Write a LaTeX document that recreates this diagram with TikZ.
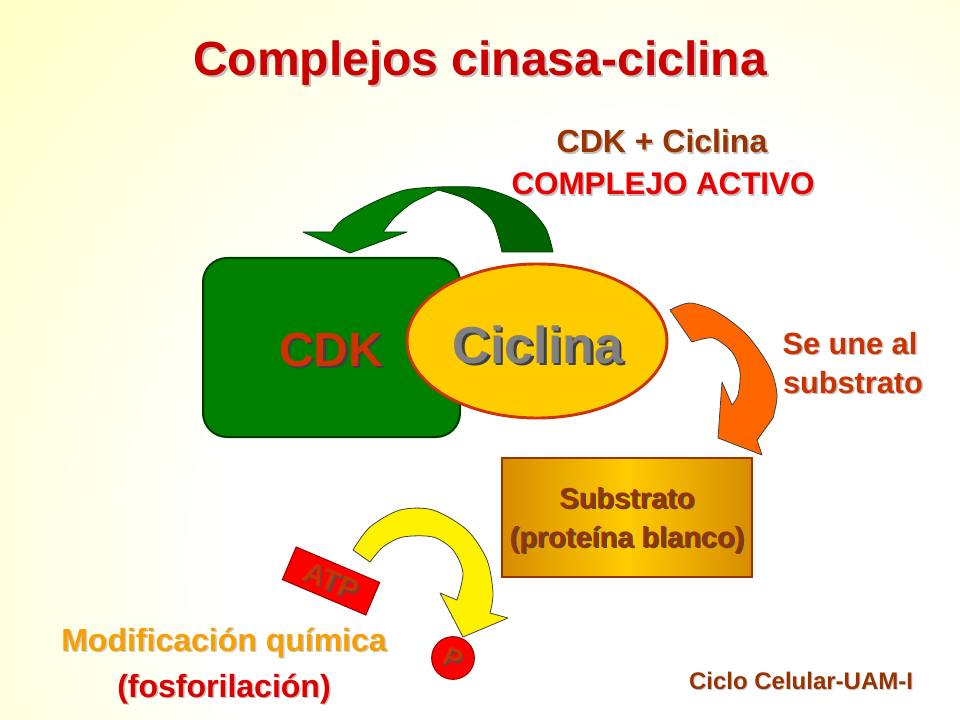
\documentclass[tikz,border=0pt]{standalone}
\usepackage{fontspec}
\setmainfont{Liberation Sans}
\usetikzlibrary{fit,calc,shapes.geometric}
\definecolor{bgyellow}{RGB}{255,255,135}
\definecolor{titlered}{RGB}{204,0,0}
\definecolor{brownA}{RGB}{153,51,0}
\definecolor{actred}{RGB}{235,0,0}
\definecolor{cdkred}{RGB}{204,51,0}
\definecolor{cicgray}{RGB}{128,128,128}
\definecolor{seune}{RGB}{204,51,0}
\definecolor{modorange}{RGB}{245,160,0}
\definecolor{fosred}{RGB}{220,0,0}
\definecolor{glight}{RGB}{0,128,0}
\definecolor{gdark}{RGB}{0,100,0}
\definecolor{gline}{RGB}{0,60,0}
\definecolor{orangeA}{RGB}{255,102,0}
\definecolor{ellfill}{RGB}{255,204,0}
\definecolor{ellline}{RGB}{204,51,0}
\definecolor{subdark}{RGB}{215,140,0}
\definecolor{sublight}{RGB}{255,204,0}
\definecolor{darkred}{RGB}{150,0,0}
\pgfdeclareradialshading{bgshade}{\pgfpoint{0bp}{0bp}}{color(0bp)=(white); color(7bp)=(white); color(22bp)=(bgyellow); color(50bp)=(bgyellow)}
\newcommand\shtxt[8]{%
  \node[anchor=base, font=\bfseries\fontsize{#4}{#4}\selectfont, text=#6] at (#2+#8,#3+#8) {#7};
  \node[anchor=base, font=\bfseries\fontsize{#4}{#4}\selectfont, text=#5] (#1) at (#2,#3) {#7};}
\tikzset{
  arrowline/.style={draw=black!75, line width=0.6pt, line join=round},
}
\begin{document}
\begin{tikzpicture}[x=0.75pt,y=-0.75pt]
\useasboundingbox (0,0) rectangle (960,720);
\begin{scope}
  \clip (0,0) rectangle (960,720);
  \shade[shading=bgshade] (640,560) circle (1500);
\end{scope}

% title and labels
\shtxt{title}{480}{76}{36}{titlered}{black!25}{Complejos cinasa-ciclina}{2}
\shtxt{cdkcic}{662}{153}{24}{brownA}{black!25}{CDK + Ciclina}{1.5}
\shtxt{activo}{663}{195}{23.5}{actred}{black!25}{COMPLEJO ACTIVO}{1.5}

% green curved arrow
\filldraw[fill=gdark, draw=gline, line width=0.6pt, line join=round]
  plot[smooth] coordinates {(553,252) (545,227) (522,203) (482,188) (438,187)}
  -- plot[smooth] coordinates {(438,190) (468,200) (492,220) (502,252)} -- cycle;
\filldraw[fill=glight, draw=gline, line width=0.6pt, line join=round]
  plot[smooth] coordinates {(438,187) (405,190) (372,203) (342,220) (332,232)}
  -- (303,232) -- (350,253) -- (407,232) -- (383,232)
  -- plot[smooth] coordinates {(383,232) (395,217) (412,203) (428,195) (438,190)} -- cycle;

% CDK box and Ciclina ellipse
\node[fit={(203,258) (460,437)}, inner sep=0pt, rounded corners=18pt, fill=glight, draw=gline, line width=1.5pt] (cdkbox) {};
\node[ellipse, minimum width=195pt, minimum height=115.5pt, inner sep=0pt, fill=ellfill, draw=ellline, line width=2.2pt] (cicell) at (537,341) {};
\shtxt{cdk}{331}{366}{36}{cdkred}{black!75}{CDK}{2.5}
\shtxt{ciclina}{538}{363}{39}{cicgray}{black!75}{Ciclina}{2.5}

% orange arrow
\filldraw[fill=orangeA, arrowline]
  plot[smooth] coordinates {(670,310) (690,303) (717,312) (747,335) (770,368) (777,395) (773,418)}
  -- (757,440) -- (762,455) -- (718,438) -- (722,382) -- (732,405)
  -- plot[smooth] coordinates {(732,405) (738,395) (740,372) (732,352) (713,338) (692,342)} -- cycle;
\shtxt{seune}{850}{354}{23}{seune}{black!25}{Se une al}{1.5}
\shtxt{substr}{853}{393}{23}{seune}{black!25}{substrato}{1.5}

% substrate box
\node[fit={(502,458) (752,577)}, inner sep=0pt, left color=subdark, right color=subdark, middle color=sublight, draw=brownA, line width=1.5pt] (subbox) {};
\shtxt{sub1}{627}{508}{21.7}{brownA}{black!70}{Substrato}{1.5}
\shtxt{sub2}{627}{547}{21.7}{brownA}{black!70}{(proteína blanco)}{1.5}

% yellow arrow
\filldraw[fill=yellow, arrowline]
  plot[smooth] coordinates {(353,550) (370,527) (400,510) (433,510) (467,530) (487,560) (493,593) (490,613)}
  -- (508,618) -- (463,637) -- (440,593) -- (457,600)
  -- plot[smooth] coordinates {(457,600) (463,573) (453,550) (433,537) (403,537) (383,547) (370,562)} -- cycle;

% ATP
\node[rotate=-23, minimum width=68pt, minimum height=26.5pt, inner sep=0pt, fill=red, draw=darkred, line width=0.8pt] (atpbox) at (331,581) {};
\node[rotate=-23, font=\bfseries\fontsize{22}{22}\selectfont, text=black!70] at (332.5,582.5) {ATP};
\node[rotate=-23, font=\bfseries\fontsize{22}{22}\selectfont, text=cdkred] (atp) at (331,581) {ATP};

% P
\node[circle, minimum size=32pt, inner sep=0pt, fill=red, draw=darkred, line width=0.8pt] (pcirc) at (453,658) {};
\node[rotate=-25, font=\bfseries\fontsize{20}{20}\selectfont, text=black!70] at (454.5,659.5) {P};
\node[rotate=-25, font=\bfseries\fontsize{20}{20}\selectfont, text=cdkred] (p) at (453,658) {P};

% bottom texts
\shtxt{mod}{224}{651}{24}{modorange}{black!20}{Modificación química}{1.5}
\shtxt{fos}{224}{697}{24}{fosred}{black!25}{(fosforilación)}{1.5}
\shtxt{uam}{801}{689}{18}{brownA}{black!20}{Ciclo Celular-UAM-I}{1}
\end{tikzpicture}
\end{document}
